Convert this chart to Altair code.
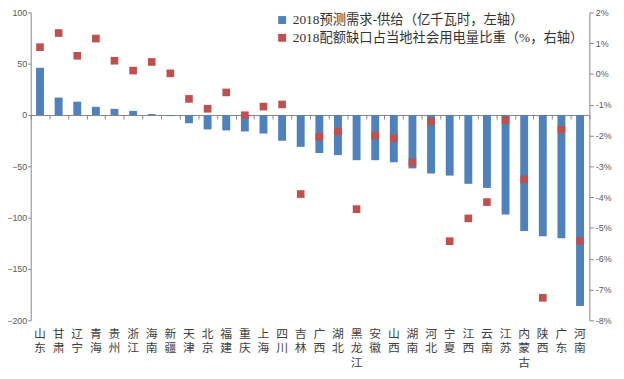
import altair as alt
import pandas as pd

provinces = ["山东", "甘肃", "辽宁", "青海", "贵州", "浙江", "海南", "新疆", "天津", "北京",
             "福建", "重庆", "上海", "四川", "吉林", "广西", "湖北", "黑龙江", "安徽", "山西",
             "湖南", "河北", "宁夏", "江西", "云南", "江苏", "内蒙古", "陕西", "广东", "河南"]

gap = [46, 17, 13, 8, 6, 4, 1, -1, -8, -14,
       -15, -16, -18, -25, -31, -37, -39, -44, -44, -46,
       -52, -57, -59, -67, -71, -97, -113, -118, -120, -186]

share = [0.87, 1.33, 0.59, 1.15, 0.43, 0.11, 0.39, 0.02, -0.81, -1.13,
         -0.60, -1.34, -1.06, -0.99, -3.90, -2.04, -1.87, -4.39, -2.00, -2.09,
         -2.87, -1.54, -5.43, -4.69, -4.16, -1.50, -3.42, -7.27, -1.81, -5.42]

series_gap = "2018预测需求-供给（亿千瓦时，左轴）"
series_share = "2018配额缺口占当地社会用电量比重（%，右轴）"

left_ticks = [-200, -150, -100, -50, 0, 50, 100]
right_ticks = [-8, -7, -6, -5, -4, -3, -2, -1, 0, 1, 2]

df = pd.DataFrame({"prov": provinces, "gap": gap, "share": share})

AX = "#868686"
LBL = "#595959"
CJK = "Liberation Serif, Noto Sans CJK SC"

cscale = alt.Scale(domain=[series_gap, series_share], range=["#4F81BD", "#C0504D"])
legend = alt.Legend(title=None, orient="none", legendX=248, legendY=1, symbolType="square",
                    symbolSize=64, symbolStrokeWidth=0, labelFontSize=13.5, labelFont=CJK,
                    labelColor="#333333", rowPadding=3, labelOffset=4, padding=0, labelLimit=500)
xscale = alt.Scale(paddingInner=0, paddingOuter=0)

bars = alt.Chart(df).transform_calculate(
    series=f"'{series_gap}'"
).mark_bar(size=8).encode(
    x=alt.X("prov:N", sort=provinces, scale=xscale,
            axis=alt.Axis(title=None, labelExpr="split(datum.label, '')", labelAngle=0,
                          domain=False, ticks=False, labelPadding=8, labelFontSize=12,
                          labelLineHeight=15, labelBaseline="top", labelColor="#404040",
                          labelFont="Noto Sans CJK SC", orient="bottom")),
    y=alt.Y("gap:Q", scale=alt.Scale(domain=[-200, 100], nice=False, zero=False),
            axis=alt.Axis(title=None, orient="left", values=left_ticks, grid=False,
                          domainColor=AX, tickColor=AX, tickSize=3, labelPadding=1,
                          labelFontSize=9, labelColor=LBL, labelFont="Liberation Sans")),
    color=alt.Color("series:N", scale=cscale, legend=legend),
)

points = alt.Chart(df).transform_calculate(
    series=f"'{series_share}'"
).mark_square(size=60, opacity=1).encode(
    x=alt.X("prov:N", sort=provinces, scale=xscale,
            axis=alt.Axis(title=None, labels=False, domain=True, domainColor=AX,
                          ticks=True, tickBand="extent", tickSize=4, tickColor=AX,
                          offset=-208, orient="bottom")),
    y=alt.Y("share:Q", scale=alt.Scale(domain=[-8, 2], nice=False, zero=False),
            axis=alt.Axis(title=None, orient="right", values=right_ticks, grid=False,
                          labelExpr="datum.value + '%'", domainColor=AX, tickColor=AX,
                          tickSize=4, labelPadding=2, labelFontSize=9, labelColor=LBL,
                          labelFont="Liberation Sans")),
    color=alt.Color("series:N", scale=cscale, legend=legend),
)

chart = alt.layer(bars, points).resolve_scale(y="independent").resolve_axis(
    x="independent"
).properties(
    width=566, height=312,
    autosize=alt.AutoSizeParams(type="none"),
    padding={"left": 23, "top": 2, "right": 27, "bottom": 57},
).configure_view(stroke=None)

chart.save("out.html", embed_options={"renderer": "svg", "actions": False})
